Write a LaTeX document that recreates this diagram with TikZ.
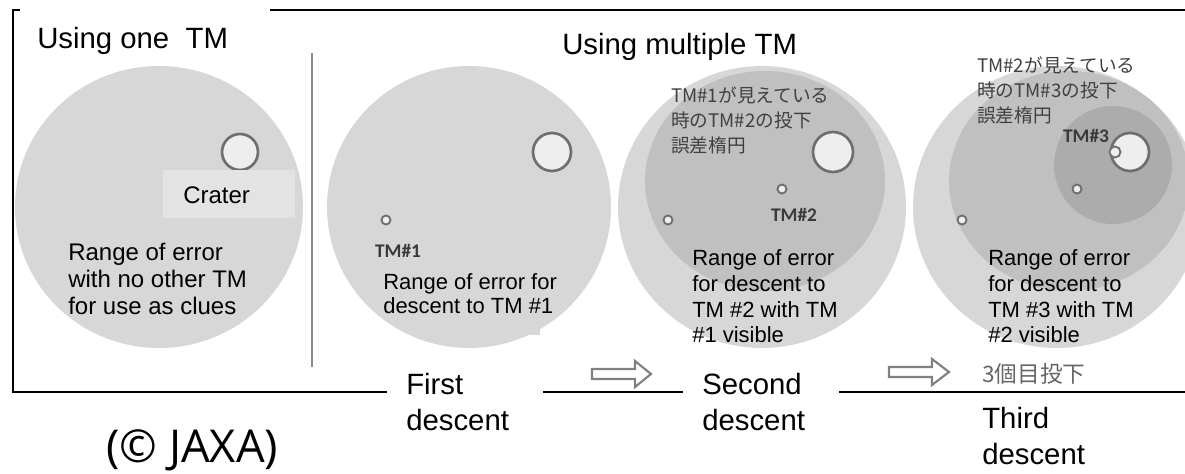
\documentclass[tikz,border=0pt]{standalone}
\usepackage{fontspec}
\setmainfont{Liberation Sans}
\newfontfamily\cjk{Noto Sans CJK JP}
\newfontfamily\tmfont{Carlito}
\newfontfamily\jaxafont{Open Sans}
\newcommand\mlines[1]{\begin{tabular}[t]{@{}l@{}}#1\end{tabular}}
\definecolor{circlight}{HTML}{D7D7D7}
\definecolor{circmid}{HTML}{C0C0C0}
\definecolor{circdark}{HTML}{ACACAC}
\definecolor{crfill}{HTML}{EEEEEE}
\definecolor{crline}{HTML}{6E6E6E}
\definecolor{lblbg}{HTML}{E3E3E3}
\definecolor{jtxt}{HTML}{404040}
\definecolor{tmtxt}{HTML}{3A3A3A}
\definecolor{arrgray}{HTML}{808080}
\definecolor{divgray}{HTML}{8C8C8C}
\begin{document}
\begin{tikzpicture}[x=0.75pt,y=-0.75pt,
  frame/.style={line width=1.5pt, draw=black},
  divider/.style={line width=2pt, draw=divgray},
  crater/.style={fill=crfill, draw=crline, line width=2pt},
  tmmark/.style={fill=crfill, draw=crline, line width=1.4pt},
  hollowarrow/.style={draw=arrgray, fill=white, line width=1.6pt, line join=miter},
  bigtxt/.style={font=\fontsize{22}{27}\selectfont, anchor=base west, inner sep=0pt},
  rangetxt/.style={font=\fontsize{16.5}{19.5}\selectfont, anchor=base west, inner sep=0pt},
  jptxt/.style={font=\cjk\fontsize{14}{18.75}\selectfont, text=jtxt, anchor=base west, inner sep=0pt},
  tmlbl/.style={font=\tmfont\bfseries\fontsize{14.5}{16}\selectfont, text=tmtxt, anchor=base, inner sep=0pt}]
\useasboundingbox (0,0) rectangle (1185,474);

% frame
\coordinate (ftl) at (20,10);
\coordinate (fcl) at (13,10);
\coordinate (fbl) at (13,392);
\coordinate (fb1) at (387,392);
\coordinate (fb2a) at (543,392);
\coordinate (fb2b) at (683,392);
\coordinate (fb3a) at (839,392);
\coordinate (fb3b) at (1185,392);
\coordinate (ft1) at (270,10);
\coordinate (ft2) at (1185,10);
\draw[frame] (ftl) -- (fcl) -- (fbl) -- (fb1);
\draw[frame] (fb2a) -- (fb2b);
\draw[frame] (fb3a) -- (fb3b);
\draw[frame] (ft1) -- (ft2);
\coordinate (dv1) at (312,53);
\coordinate (dv2) at (312,367);
\draw[divider] (dv1) -- (dv2);

% titles
\node[bigtxt] (t1) at (37,49) {Using one\ \ TM};
\node[bigtxt] (t2) at (562,55) {Using multiple TM};

% circle 1
\fill[circlight] (159,207) ellipse [x radius=144, y radius=141];
\draw[crater] (240,152) circle [radius=18];
\fill[lblbg] (163,170) rectangle (295,218);
\node[font=\fontsize{18}{21}\selectfont, anchor=base west, inner sep=0pt] (crl) at (183,204) {Crater};
\node[font=\fontsize{18}{20.6}\selectfont, anchor=base west, inner sep=0pt] (r1) at (68,260)
  {\mlines{Range of error\\with no other TM\\for use as clues}};

% circle 2
\fill[circlight] (469,207) ellipse [x radius=142, y radius=141];
\fill[circlight] (430,300) rectangle (540,335);
\draw[crater] (552,152) circle [radius=19];
\draw[tmmark] (386,220) circle [radius=4.5];
\node[tmlbl] (tm1a) at (398,257) {TM\#1};
\node[font=\fontsize{16.5}{18.4}\selectfont, anchor=base west, inner sep=0pt] (r2) at (383,289)
  {\mlines{Range of error for\\descent to TM \#1}};

% circle 3
\fill[circlight] (762,207) ellipse [x radius=144, y radius=141];
\fill[circmid] (765,181) ellipse [x radius=120, y radius=110];
\draw[crater] (833,152) circle [radius=20];
\draw[tmmark] (668,220) circle [radius=4.5];
\draw[tmmark] (782,189) circle [radius=4.5];
\node[tmlbl] (tm2a) at (794,221) {TM\#2};
\node[jptxt] (j3) at (671,103) {\mlines{TM\#1が見えている\\時のTM\#2の投下\\誤差楕円}};
\node[rangetxt] (r3) at (692,265) {\mlines{Range of error\\for descent to\\TM \#2 with TM\\\#1 visible}};

% circle 4
\fill[circlight] (1057,207) ellipse [x radius=144, y radius=141];
\fill[circmid] (1069,181) ellipse [x radius=120, y radius=110];
\fill[circdark] (1113,165) circle [radius=59];
\draw[crater] (1130,152) circle [radius=19];
\draw[tmmark] (962,220) circle [radius=4.5];
\draw[tmmark] (1077,189) circle [radius=4.5];
\draw[tmmark] (1115,152) circle [radius=5.5];
\node[tmlbl] (tm3a) at (1086,143) {TM\#3};
\node[jptxt] (j4) at (977,73) {\mlines{TM\#2が見えている\\時のTM\#3の投下\\誤差楕円}};
\node[rangetxt] (r4) at (988,265) {\mlines{Range of error\\for descent to\\TM \#3 with TM\\\#2 visible}};

% arrows
\draw[hollowarrow] (592,369) -- (635,369) -- (635,361) -- (651,374) -- (635,387) -- (635,379) -- (592,379) -- cycle;
\draw[hollowarrow] (889,367) -- (932,367) -- (932,359) -- (949,372) -- (932,385) -- (932,377) -- (889,377) -- cycle;

% bottom labels
\node[bigtxt] (d1) at (406,394) {\mlines{First\\descent}};
\node[bigtxt] (d2) at (702,394) {\mlines{Second\\descent}};
\node[bigtxt] (d3) at (982,428) {\mlines{Third\\descent}};
\node[font=\cjk\fontsize{17}{19}\selectfont, text=jtxt!80, anchor=base west, inner sep=0pt] (j5) at (982,382) {3個目投下};
\node[font=\jaxafont\fontsize{34}{40}\selectfont, anchor=base west, inner sep=0pt] (jaxa) at (106,462) {(© JAXA)};
\end{tikzpicture}
\end{document}
